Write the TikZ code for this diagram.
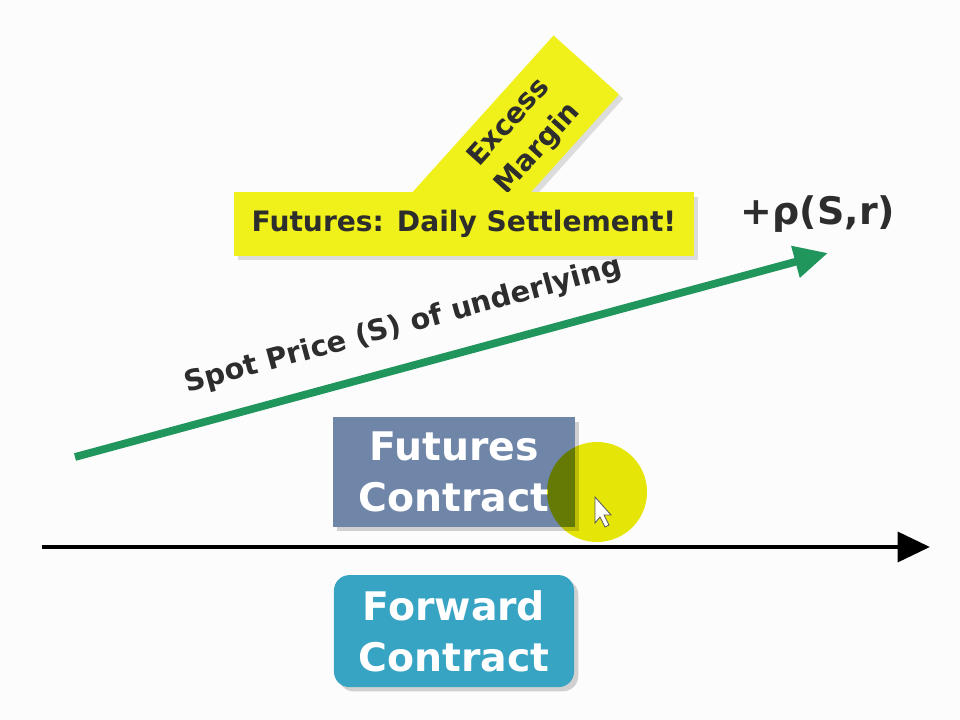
\documentclass[tikz,border=0pt]{standalone}
\usepackage{fontspec}
\setmainfont{DejaVu Sans}
\usetikzlibrary{arrows.meta,positioning,shadows}

\definecolor{slatebox}{RGB}{112,134,168}
\definecolor{tealbox}{RGB}{56,164,196}
\definecolor{notice}{RGB}{240,240,26}
\definecolor{spotgreen}{RGB}{32,150,92}
\definecolor{inkgray}{RGB}{45,45,45}
\definecolor{highlight}{RGB}{232,232,8}

\tikzset{
  contract/.style={
    text=white,
    font=\fontsize{28}{36}\selectfont\bfseries,
    minimum width=6cm,
    minimum height=2.8cm,
    align=center,
    drop shadow={shadow xshift=3pt,shadow yshift=-3pt,opacity=0.35}
  },
  notebox/.style={
    fill=notice,
    text=inkgray,
    align=center,
    drop shadow={shadow xshift=3pt,shadow yshift=-3pt,opacity=0.25}
  }
}

\begin{document}
\begin{tikzpicture}[x=0.025cm,y=-0.025cm]
\useasboundingbox[fill=gray!2] (0,0) rectangle (960,720);

% -------- Excess margin tab (behind the settlement card) --------
\node[notebox,rotate=48,minimum width=5.25cm,minimum height=2.2cm]
  (excessbar) at (516,143) {};
\node[rotate=48,text=inkgray,align=center,
  font=\fontsize{20}{28}\selectfont\bfseries]
  (excesslabel) at (524,136) {Excess\\Margin};

% -------- Settlement card --------
\node[notebox,minimum width=11.5cm,minimum height=1.575cm,
  font=\fontsize{20}{24}\selectfont\bfseries]
  (settle) at (464,224) {Futures: Daily Settlement!};

% -------- Spot price arrow --------
\coordinate (spotstart) at (75,457);
\coordinate (spottip) at (828,253);
\draw[spotgreen,line width=5.5pt,-{Triangle[length=24pt,width=22pt]}]
  (spotstart) -- (spottip)
  node[pos=0.45,sloped,above=0.45cm,text=inkgray,
    font=\fontsize{20.5}{24}\selectfont\bfseries] (spotlabel)
  {Spot Price (S) of underlying};
\node[text=inkgray,font=\fontsize{27}{30}\selectfont\bfseries]
  (rholabel) at (818,214) {+ρ(S,r)};

% -------- Contract boxes --------
\node[contract,fill=slatebox,minimum width=6.05cm,minimum height=2.725cm]
  (futures) at (454,472) {Futures\\Contract};
\node[contract,fill=tealbox,rounded corners=11pt,below=1.2cm of futures]
  (forward) {Forward\\Contract};

% -------- Pointer highlight --------
\fill[highlight,blend mode=multiply] (597,492) circle (50);
\filldraw[fill=white,draw=gray!70!black,line width=0.6pt]
  (595,497) -- (595,523) -- (600,517) -- (605,527) -- (609,525)
  -- (604,515) -- (611,515) -- cycle;

% -------- Time axis --------
\coordinate (axisstart) at (42,547);
\coordinate (axisend) at (930,547);
\draw[black,line width=3.5pt,-{Triangle[length=23pt,width=21pt]}]
  (axisstart) -- (axisend);

\end{tikzpicture}
\end{document}
